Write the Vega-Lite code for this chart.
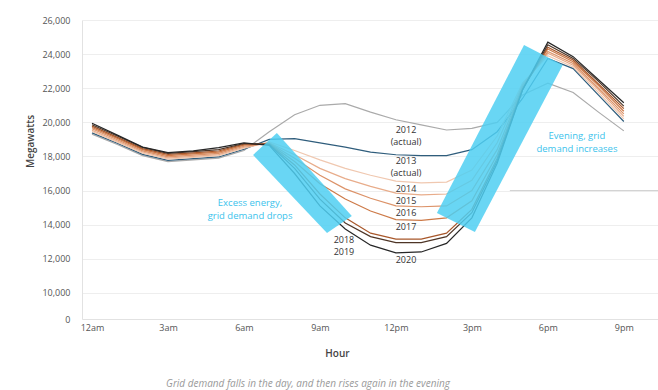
{
  "$schema": "https://vega.github.io/schema/vega-lite/v6.json",
  "width": 576,
  "height": 299,
  "autosize": {"type": "none"},
  "padding": {"left": 82, "top": 20, "right": 0, "bottom": 71},
  "background": "white",
  "config": {
    "view": {"stroke": null},
    "font": "Open Sans"
  },
  "title": {
    "text": "Grid demand falls in the day, and then rises again in the evening",
    "orient": "bottom",
    "anchor": "middle",
    "frame": "group",
    "dx": -62,
    "offset": 21,
    "fontSize": 10,
    "fontStyle": "italic",
    "fontWeight": "normal",
    "color": "#9a9a9a"
  },
  "datasets": {
    "wide": [
      {"h": 0, "2012": 19300, "2013": 19380, "2014": 19460, "2015": 19540, "2016": 19620, "2017": 19700, "2018": 19780, "2019": 19860, "2020": 19950},
      {"h": 1, "2012": 18700, "2013": 18770, "2014": 18840, "2015": 18910, "2016": 18980, "2017": 19050, "2018": 19120, "2019": 19200, "2020": 19250},
      {"h": 2, "2012": 18050, "2013": 18120, "2014": 18190, "2015": 18260, "2016": 18330, "2017": 18400, "2018": 18460, "2019": 18530, "2020": 18550},
      {"h": 3, "2012": 17700, "2013": 17770, "2014": 17840, "2015": 17910, "2016": 17980, "2017": 18050, "2018": 18120, "2019": 18180, "2020": 18230},
      {"h": 4, "2012": 17800, "2013": 17870, "2014": 17940, "2015": 18010, "2016": 18080, "2017": 18150, "2018": 18210, "2019": 18280, "2020": 18330},
      {"h": 5, "2012": 17900, "2013": 17970, "2014": 18040, "2015": 18110, "2016": 18180, "2017": 18250, "2018": 18320, "2019": 18400, "2020": 18520},
      {"h": 6, "2012": 18350, "2013": 18420, "2014": 18480, "2015": 18540, "2016": 18600, "2017": 18660, "2018": 18720, "2019": 18760, "2020": 18800},
      {"h": 7, "2012": 19450, "2013": 19000, "2014": 18850, "2015": 18800, "2016": 18780, "2017": 18750, "2018": 18720, "2019": 18700, "2020": 18650},
      {"h": 8, "2012": 20450, "2013": 19050, "2014": 18350, "2015": 18100, "2016": 17900, "2017": 17700, "2018": 17500, "2019": 17300, "2020": 17000},
      {"h": 9, "2012": 21000, "2013": 18800, "2014": 17800, "2015": 17300, "2016": 16900, "2017": 16400, "2018": 15800, "2019": 15500, "2020": 15100},
      {"h": 10, "2012": 21100, "2013": 18550, "2014": 17300, "2015": 16700, "2016": 16100, "2017": 15500, "2018": 14400, "2019": 14100, "2020": 13750},
      {"h": 11, "2012": 20600, "2013": 18250, "2014": 16900, "2015": 16250, "2016": 15550, "2017": 14800, "2018": 13500, "2019": 13300, "2020": 12800},
      {"h": 12, "2012": 20150, "2013": 18100, "2014": 16550, "2015": 15850, "2016": 15100, "2017": 14300, "2018": 13150, "2019": 12950, "2020": 12350},
      {"h": 13, "2012": 19850, "2013": 18050, "2014": 16450, "2015": 15750, "2016": 15050, "2017": 14250, "2018": 13150, "2019": 12950, "2020": 12400},
      {"h": 14, "2012": 19550, "2013": 18050, "2014": 16500, "2015": 15800, "2016": 15100, "2017": 14400, "2018": 13500, "2019": 13300, "2020": 12900},
      {"h": 15, "2012": 19650, "2013": 18400, "2014": 17200, "2015": 16600, "2016": 16000, "2017": 15400, "2018": 14900, "2019": 14700, "2020": 14400},
      {"h": 16, "2012": 20000, "2013": 19450, "2014": 19200, "2015": 18800, "2016": 18400, "2017": 18100, "2018": 17900, "2019": 17750, "2020": 17600},
      {"h": 17, "2012": 21600, "2013": 21400, "2014": 22300, "2015": 22200, "2016": 22100, "2017": 22000, "2018": 21950, "2019": 21900, "2020": 21900},
      {"h": 18, "2012": 22300, "2013": 23750, "2014": 23900, "2015": 24050, "2016": 24150, "2017": 24300, "2018": 24400, "2019": 24550, "2020": 24700},
      {"h": 19, "2012": 21750, "2013": 23150, "2014": 23250, "2015": 23350, "2016": 23450, "2017": 23550, "2018": 23650, "2019": 23750, "2020": 23850},
      {"h": 20, "2012": 20600, "2013": 21600, "2014": 21750, "2015": 21900, "2016": 22000, "2017": 22150, "2018": 22250, "2019": 22400, "2020": 22500},
      {"h": 21, "2012": 19500, "2013": 20050, "2014": 20200, "2015": 20350, "2016": 20500, "2017": 20650, "2018": 20800, "2019": 20950, "2020": 21150}
    ],
    "stray": [
      {"h": 16.5, "mw": 16000},
      {"h": 22.35, "mw": 16000}
    ],
    "poly": [
      {"id": "a", "o": 1, "h": 6.36, "mw": 18087},
      {"id": "a", "o": 2, "h": 7.3, "mw": 19376},
      {"id": "a", "o": 3, "h": 10.26, "mw": 14511},
      {"id": "a", "o": 4, "h": 9.28, "mw": 13515},
      {"id": "b", "o": 1, "h": 17.06, "mw": 24535},
      {"id": "b", "o": 2, "h": 18.59, "mw": 23362},
      {"id": "b", "o": 3, "h": 15.12, "mw": 13573},
      {"id": "b", "o": 4, "h": 13.62, "mw": 14687}
    ],
    "labels": [
      {"t": "2012", "h": 12.4, "mw": 19552},
      {"t": "(actual)", "h": 12.4, "mw": 18849},
      {"t": "2013", "h": 12.4, "mw": 17735},
      {"t": "(actual)", "h": 12.4, "mw": 17020},
      {"t": "2014", "h": 12.4, "mw": 16094},
      {"t": "2015", "h": 12.4, "mw": 15390},
      {"t": "2016", "h": 12.4, "mw": 14687},
      {"t": "2017", "h": 12.4, "mw": 13866},
      {"t": "2018", "h": 9.95, "mw": 13104},
      {"t": "2019", "h": 9.95, "mw": 12390},
      {"t": "2020", "h": 12.4, "mw": 11932}
    ],
    "notes": [
      {"t": "Excess energy,\ngrid demand drops", "h": 6.24, "mw": 15244},
      {"t": "Evening, grid\ndemand increases", "h": 19.15, "mw": 19170}
    ]
  },
  "encoding": {
    "x": {
      "field": "h",
      "type": "quantitative",
      "scale": {"domain": [-0.395, 22.35], "nice": false, "zero": false},
      "axis": {
        "title": "Hour",
        "values": [0, 3, 6, 9, 12, 15, 18, 21],
        "labelExpr": "['12am','3am','6am','9am','12pm','3pm','6pm','9pm'][round(datum.value/3)]",
        "grid": false,
        "ticks": false,
        "domainColor": "#e2e2e2",
        "labelFontSize": 9,
        "labelColor": "#555555",
        "labelPadding": 4,
        "titleFontSize": 10,
        "titleFontWeight": 600,
        "titleColor": "#444444",
        "titleX": 255,
        "titleY": 29,
        "titleAnchor": null
      }
    },
    "y": {
      "field": "mw",
      "type": "quantitative",
      "scale": {"domain": [8470, 26000], "nice": false, "zero": false},
      "axis": {
        "title": "Megawatts",
        "values": [8470, 10000, 12000, 14000, 16000, 18000, 20000, 22000, 24000, 26000],
        "labelExpr": "datum.value < 9000 ? '0' : format(datum.value, ',')",
        "grid": true,
        "gridColor": "#eeeeee",
        "ticks": false,
        "domainColor": "#e2e2e2",
        "labelFontSize": 9,
        "labelColor": "#555555",
        "labelPadding": 12,
        "titleFontSize": 10,
        "titleFontWeight": 600,
        "titleColor": "#444444",
        "titleAngle": -90,
        "titleX": -52,
        "titleY": 121,
        "titleBaseline": "middle",
        "titleAlign": "center"
      }
    }
  },
  "layer": [
    {
      "data": {"name": "stray"},
      "mark": {"type": "line", "color": "#d0d0d0", "strokeWidth": 1}
    },
    {
      "data": {"name": "wide"},
      "transform": [
        {"fold": ["2012", "2013", "2014", "2015", "2016", "2017", "2018", "2019", "2020"], "as": ["year", "mw"]}
      ],
      "mark": {"type": "line", "strokeWidth": 1.2},
      "encoding": {
        "color": {
          "field": "year",
          "type": "nominal",
          "scale": {
            "domain": ["2012", "2013", "2014", "2015", "2016", "2017", "2018", "2019", "2020"],
            "range": ["#aaaaaa", "#2f5d7c", "#f0c8b0", "#e8ac8a", "#dc9268", "#cd7a48", "#a8572a", "#4e3526", "#262626"]
          },
          "legend": null
        },
        "strokeWidth": {
          "condition": {"test": "datum.year == '2018'", "value": 2},
          "value": 1.2
        }
      }
    },
    {
      "data": {"name": "poly"},
      "mark": {"type": "line", "fill": "#4fcff2", "fillOpacity": 0.85, "strokeWidth": 0, "stroke": null},
      "encoding": {
        "detail": {"field": "id", "type": "nominal"},
        "order": {"field": "o", "type": "quantitative"}
      }
    },
    {
      "data": {"name": "labels"},
      "mark": {"type": "text", "fontSize": 9, "color": "#333333", "align": "center", "baseline": "middle"},
      "encoding": {
        "text": {"field": "t", "type": "nominal"}
      }
    },
    {
      "data": {"name": "notes"},
      "mark": {"type": "text", "fontSize": 9.5, "color": "#3cc3ec", "align": "center", "baseline": "middle", "lineBreak": "\n", "lineHeight": 13},
      "encoding": {
        "text": {"field": "t", "type": "nominal"}
      }
    }
  ]
}
